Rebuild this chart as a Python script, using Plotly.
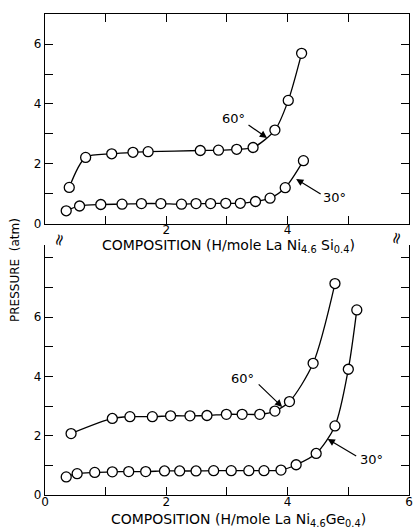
import plotly.graph_objects as go

# ---- data: top panel (LaNi4.6Si0.4) ----
si_60_x = [0.40, 0.67, 1.10, 1.45, 1.70, 2.56, 2.86, 3.16, 3.43, 3.79, 4.01, 4.23]
si_60_y = [1.22, 2.22, 2.34, 2.39, 2.41, 2.45, 2.46, 2.49, 2.55, 3.13, 4.12, 5.69]
si_30_x = [0.35, 0.57, 0.92, 1.27, 1.59, 1.91, 2.25, 2.49, 2.73, 2.98, 3.22, 3.47, 3.71, 3.96, 4.26]
si_30_y = [0.44, 0.60, 0.65, 0.66, 0.68, 0.68, 0.66, 0.68, 0.68, 0.69, 0.69, 0.75, 0.86, 1.21, 2.11]

# ---- data: bottom panel (LaNi4.6Ge0.4) ----
ge_60_x = [0.43, 1.11, 1.40, 1.77, 2.07, 2.39, 2.67, 2.99, 3.25, 3.54, 3.79, 4.03, 4.42, 4.78]
ge_60_y = [2.07, 2.58, 2.64, 2.64, 2.67, 2.67, 2.68, 2.72, 2.72, 2.72, 2.83, 3.15, 4.44, 7.13]
ge_30_x = [0.35, 0.53, 0.82, 1.11, 1.38, 1.66, 1.97, 2.22, 2.49, 2.78, 3.07, 3.36, 3.61, 3.89, 4.14, 4.47, 4.78, 5.00, 5.14]
ge_30_y = [0.61, 0.72, 0.76, 0.78, 0.79, 0.79, 0.81, 0.81, 0.81, 0.82, 0.82, 0.82, 0.82, 0.84, 1.02, 1.40, 2.33, 4.24, 6.24]

# ---- tick labels ----
x_tickvals = [0, 1, 2, 3, 4, 5, 6]
x_ticktext_top = ["", "", "2", "", "4", "", ""]
x_ticktext_bot = ["0", "", "2", "", "4", "", "6"]
y_tickvals_top = [0, 1, 2, 3, 4, 5, 6, 7]
y_ticktext_top = ["0", "", "2", "", "4", "", "6", ""]
y_tickvals_bot = [0, 1, 2, 3, 4, 5, 6, 7, 8]
y_ticktext_bot = ["0", "", "2", "", "4", "", "6", "", ""]

FONT = "DejaVu Sans"
marker = dict(symbol="circle", size=10, color="white", line=dict(color="black", width=1.3))
line = dict(color="black", width=1.3, shape="spline", smoothing=0.8)

fig = go.Figure()
for xs, ys, xa, ya in [(si_60_x, si_60_y, "x", "y"), (si_30_x, si_30_y, "x", "y"),
                       (ge_60_x, ge_60_y, "x2", "y2"), (ge_30_x, ge_30_y, "x2", "y2")]:
    fig.add_trace(go.Scatter(x=xs, y=ys, xaxis=xa, yaxis=ya, mode="lines+markers",
                             line=line, marker=marker, showlegend=False, hoverinfo="skip"))

axis_common = dict(showgrid=False, zeroline=False, showline=True, linecolor="black", linewidth=1.3,
                   ticks="inside", ticklen=8, tickwidth=1.2, tickcolor="black", automargin=False,
                   tickfont=dict(family=FONT, size=12, color="black"))

xdom = [0.1084, 0.9855]
fig.update_layout(
    width=415, height=529, margin=dict(l=0, r=0, t=0, b=0, autoexpand=False),
    paper_bgcolor="white", plot_bgcolor="white",
    xaxis=dict(domain=xdom, range=[0, 6], anchor="y", tickvals=x_tickvals, ticktext=x_ticktext_top,
               mirror="ticks", ticklabelstandoff=-6, **axis_common),
    yaxis=dict(domain=[0.5766, 0.9735], range=[0, 7], anchor="x", tickvals=y_tickvals_top,
               ticktext=y_ticktext_top, mirror="ticks", **axis_common),
    xaxis2=dict(domain=xdom, range=[0, 6], anchor="y2", tickvals=x_tickvals, ticktext=x_ticktext_bot,
                mirror=False, ticklabelstandoff=-5, **axis_common),
    yaxis2=dict(domain=[0.0643, 0.5369], range=[0, 8.43], anchor="x2", tickvals=y_tickvals_bot,
                ticktext=y_ticktext_bot, mirror="ticks", **axis_common),
)

tf = dict(family=FONT, size=13, color="black")
ttf = dict(family=FONT, size=14, color="black")
ann = []
# axis titles
ann.append(dict(text="COMPOSITION (H/mole La Ni<sub>4.6</sub> Si<sub>0.4</sub>)", xref="paper", yref="paper",
                x=228 / 415, y=1 - 246 / 529, showarrow=False, font=ttf, xanchor="center", yanchor="middle"))
ann.append(dict(text="COMPOSITION (H/mole La Ni<sub>4.6</sub>Ge<sub>0.4</sub>)", xref="paper", yref="paper",
                x=238 / 415, y=1 - 520 / 529, showarrow=False, font=ttf, xanchor="center", yanchor="middle"))
ann.append(dict(text="PRESSURE  (atm)", xref="paper", yref="paper", x=15 / 415, y=1 - 270 / 529,
                textangle=-90, showarrow=False, font=dict(family=FONT, size=12, color="black"),
                xanchor="center", yanchor="middle"))
# break marks
ann.append(dict(text="≈", xref="paper", yref="paper", x=45 / 415, y=1 - 240 / 529, showarrow=False,
                font=dict(family=FONT, size=16, color="black"), textangle=-75))
ann.append(dict(text="≈", xref="paper", yref="paper", x=409 / 415, y=1 - 238 / 529, showarrow=False,
                font=dict(family=FONT, size=16, color="black"), textangle=-75))
# curve labels
for t, x, y, xr, yr in [("60°", 3.10, 3.53, "x", "y"), ("30°", 4.78, 0.87, "x", "y"),
                        ("60°", 3.26, 3.94, "x2", "y2"), ("30°", 5.39, 1.18, "x2", "y2")]:
    ann.append(dict(text=t, x=x, y=y, xref=xr, yref=yr, showarrow=False, font=tf))
# arrows
for x, y, ax, ay, xr, yr in [(3.66, 2.87, -20, -14, "x", "y"), (4.14, 1.50, 26, 16, "x", "y"),
                             (3.91, 2.97, -25, -24, "x2", "y2"), (4.66, 1.89, 30, 18, "x2", "y2")]:
    ann.append(dict(text="", x=x, y=y, xref=xr, yref=yr, ax=ax, ay=ay, showarrow=True,
                    arrowhead=2, arrowsize=1.2, arrowwidth=1.2, arrowcolor="black"))
fig.update_layout(annotations=ann)

fig.write_html("out.html", config={"displayModeBar": False},
               post_script="document.body.style.margin='0';document.body.style.overflow='hidden';")
